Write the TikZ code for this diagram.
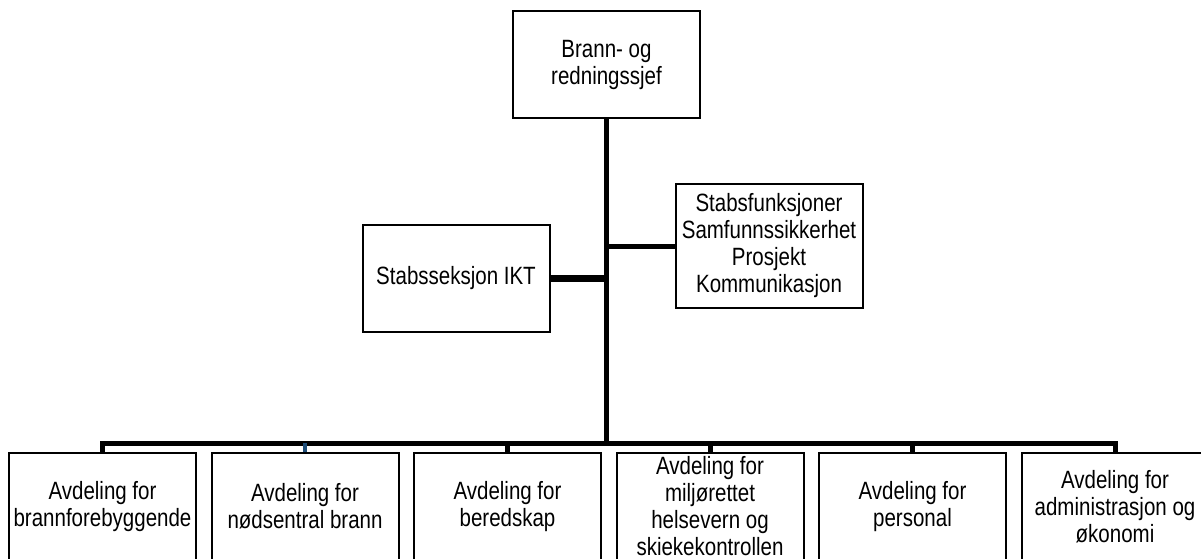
\documentclass[tikz,border=0pt]{standalone}
\usepackage{fontspec}
\setmainfont{Liberation Sans}[FakeStretch=0.82]
\usetikzlibrary{positioning}
\definecolor{dropblue}{RGB}{31,78,121}

\begin{document}
\begin{tikzpicture}[
x = 1pt, y = -1pt,
node distance = 13.5pt,
every node/.style = {
	font = \fontsize{25pt}{27pt}\selectfont,
	align = center
},
unit/.style = {
	rectangle,
	draw,
	line width = 2pt,
	inner sep = 1pt,
	minimum width = 187pt,
	minimum height = 107pt
},
link/.style = {
	line width = 5.5pt
}
]
\useasboundingbox (0,0) rectangle (1201,558);

\node (chief) [unit] at (606.5,64.5) {Brann- og\\redningssjef};

\node (ikt) [unit] at (456,278) {Stabsseksjon IKT};
\node (staff) [unit, minimum height = 124pt] at (769,246) {Stabsfunksjoner\\Samfunnssikkerhet\\Prosjekt\\Kommunikasjon};

\node (fire) [unit] at (102.5,506.5) {Avdeling for\\brannforebyggende};
\node (alarm) [unit, right = of fire] {Avdeling for\\nødsentral brann};
\node (ready) [unit, right = of alarm] {Avdeling for\\beredskap};
\node (health) [unit, right = of ready] {Avdeling for\\miljørettet\\helsevern og\\skiekekontrollen};
\node (pers) [unit, right = of health] {Avdeling for\\personal};
\node (admin) [unit, right = of pers] {Avdeling for\\administrasjon og\\økonomi};

\coordinate (bar) at (0,443);

% trunk and staff links
\draw[link] (chief.south) -- (chief.south |- bar);
\draw[link, line width = 7pt] (ikt.east) -- (ikt.east -| chief.south);
\draw[link, line width = 5pt] (staff.west) -- (staff.west -| chief.south);

% departments
\draw[link, line width = 5pt] (fire.north) -- (fire.north |- bar) -- (admin.north |- bar) -- (admin.north);
\draw[link, line width = 4pt, dropblue] (alarm.north) -- (alarm.north |- bar);
\draw[link, line width = 5pt] (ready.north) -- (ready.north |- bar);
\draw[link, line width = 5pt] (health.north) -- (health.north |- bar);
\draw[link, line width = 5pt] (pers.north) -- (pers.north |- bar);

\end{tikzpicture}
\end{document}
